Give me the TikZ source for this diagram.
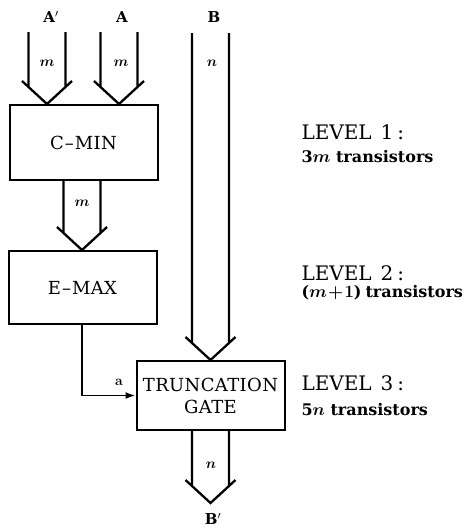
\documentclass[tikz,border=0pt]{standalone}
\usepackage{fontspec}
\usepackage{amsmath,amsbsy}
\newfontfamily\boxfont[Ligatures=TeX]{DejaVu Serif}
\usetikzlibrary{calc,arrows.meta}
\newcommand\fatarrow[2]{% #1 top coordinate, #2 tip coordinate
  \draw[fat] let \p1=(#1), \p2=(#2) in
    (\x2-18.5pt,\y1) -- (\x2-18.5pt,\y2+17pt)
    (\x2+18.5pt,\y1) -- (\x2+18.5pt,\y2+17pt)
    (\x2-25pt,\y2+23pt) -- (\x2,\y2) -- (\x2+25pt,\y2+23pt);}
\begin{document}
\begin{tikzpicture}[x=1pt,y=-1pt,
  fat/.style={line width=2.3pt,line join=miter},
  box/.style={draw,line width=2pt,minimum width=148pt,inner sep=0pt,
    font=\boxfont\fontsize{18}{23}\selectfont\addfontfeatures{LetterSpace=2},align=center},
  lbl/.style={font=\fontsize{14}{16}\selectfont\bfseries\boldmath},
  io/.style={font=\boxfont\fontsize{15}{18}\selectfont\bfseries},
  lev/.style={anchor=west,font=\boxfont\fontsize{20}{22}\selectfont},
  tr/.style={anchor=west,font=\boxfont\fontsize{16}{19}\selectfont\bfseries\boldmath}]
\useasboundingbox (0,0) rectangle (464,530);

% boxes
\node[box,minimum height=75pt] (cmin) at (83.5,142.5) {C\kern1pt--\kern1ptMIN};
\node[box,minimum height=73pt] (emax) at (82.5,287.5) {E\kern1pt--\kern1ptMAX};
\node[box,minimum height=69pt] (trunc) at (210.5,395.5) {TRUNCATION\\[-1pt]GATE};

% inputs / outputs
\node[io] (Ap) at (51,17) {A$'$};
\node[io] (A) at (122,17) {A};
\node[io] (B) at (214,17) {B};
\node[io] (Bq) at (213,519) {B$'$};

\coordinate (tApr) at (47,32);
\coordinate (tA) at (119,32);
\coordinate (tB) at (210.5,33);
\coordinate (mid) at (82,0);
\coordinate (tip) at (210.5,503);

% fat arrows
\fatarrow{tApr}{cmin.north -| tApr}
\fatarrow{tA}{cmin.north -| tA}
\fatarrow{cmin.south -| mid}{emax.north -| mid}
\fatarrow{tB}{trunc.north}
\fatarrow{trunc.south}{tip}

% bus widths
\node[lbl] (m1) at (47,63) {$\boldsymbol{m}$};
\node[lbl] (m2) at (121,63) {$\boldsymbol{m}$};
\node[lbl] (m3) at (82,203) {$\boldsymbol{m}$};
\node[lbl] (n1) at (212,63) {$\boldsymbol{n}$};
\node[lbl] (n2) at (211,465) {$\boldsymbol{n}$};

% single line a
\draw[line width=1.8pt,-{Latex[length=10pt,width=7pt]}] (emax.south -| mid) |- (trunc.west);
\node[lbl] (a) at (119,382) {a};

% levels
\node[lev] (l1) at (298,132) {LEVEL\hspace{9pt}1\hspace{4pt}:};
\node[tr] (t1) at (298,157) {3$\boldsymbol{m}$ transistors};
\node[lev] (l2) at (298,273) {LEVEL\hspace{9pt}2\hspace{4pt}:};
\node[tr] (t2) at (298,293) {($\boldsymbol{m}\!+\!\mathbf{1}$)\hspace{4pt}transistors};
\node[lev] (l3) at (298,383) {LEVEL\hspace{9pt}3\hspace{4pt}:};
\node[tr] (t3) at (298,410) {5$\boldsymbol{n}$ transistors};
\end{tikzpicture}
\end{document}
